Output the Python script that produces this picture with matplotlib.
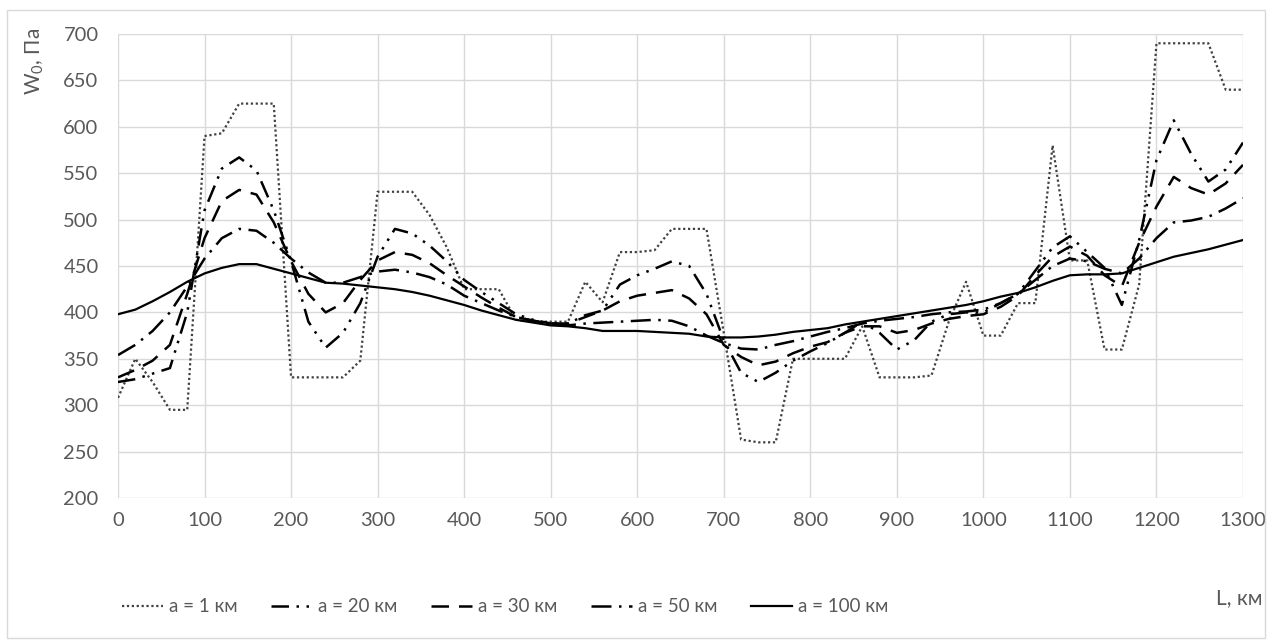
import numpy as np
import matplotlib.pyplot as plt
from matplotlib.patches import Rectangle

plt.rcParams['font.family'] = ['Lato', 'DejaVu Sans']
plt.rcParams['mathtext.fontset'] = 'custom'
plt.rcParams['mathtext.rm'] = 'Lato'

# distance along the route, km
L = list(range(0, 1301, 20))

# W0, Pa for different averaging radius a
w_a1 = [308, 350, 325, 295, 295, 590, 593, 625, 625, 625,
        330, 330, 330, 330, 348, 530, 530, 530, 505, 470,
        425, 425, 425, 392, 390, 390, 390, 433, 411, 465,
        465, 467, 490, 490, 490, 378, 263, 260, 260, 350,
        350, 350, 350, 385, 330, 330, 330, 332, 390, 433,
        375, 375, 410, 410, 580, 456, 456, 360, 360, 430,
        690, 690, 690, 690, 640, 640]
w_a20 = [325, 328, 334, 340, 400, 510, 555, 567, 553, 510,
         455, 390, 362, 378, 410, 460, 490, 485, 472, 455,
         435, 422, 410, 398, 392, 388, 388, 397, 402, 430,
         440, 447, 455, 450, 420, 370, 335, 325, 335, 348,
         358, 367, 378, 390, 378, 360, 370, 390, 398, 400,
         400, 410, 420, 445, 470, 482, 465, 448, 408, 478,
         564, 607, 571, 541, 554, 583]
w_a30 = [330, 338, 348, 365, 420, 480, 520, 532, 527, 497,
         455, 420, 400, 410, 435, 456, 465, 462, 453, 440,
         428, 416, 405, 395, 391, 388, 388, 395, 402, 412,
         418, 421, 424, 415, 398, 365, 352, 343, 347, 356,
         363, 368, 378, 385, 385, 378, 381, 388, 393, 396,
         398, 406, 418, 440, 460, 471, 461, 440, 428, 475,
         514, 546, 534, 527, 539, 559]
w_a50 = [354, 365, 380, 400, 428, 458, 480, 490, 488, 475,
         458, 443, 432, 432, 438, 444, 446, 443, 438, 430,
         418, 410, 402, 395, 391, 388, 386, 388, 389, 390,
         391, 392, 391, 385, 375, 367, 361, 360, 365, 369,
         374, 379, 383, 388, 391, 393, 395, 398, 400, 401,
         403, 410, 420, 435, 450, 458, 455, 447, 442, 458,
         480, 497, 499, 503, 512, 523]
w_a100 = [398, 403, 412, 422, 433, 442, 448, 452, 452, 447,
          442, 437, 432, 431, 429, 427, 425, 422, 418, 413,
          408, 402, 397, 392, 389, 386, 385, 383, 380, 380,
          380, 379, 378, 377, 374, 373, 373, 374, 376, 379,
          381, 383, 387, 390, 393, 396, 399, 402, 405, 408,
          412, 417, 421, 427, 434, 440, 441, 441, 442, 448,
          454, 460, 464, 468, 473, 478]

labels = ['a = 1 км', 'a = 20 км', 'a = 30 км', 'a = 50 км', 'a = 100 км']

grey = '#595959'
fig = plt.figure(figsize=(12.72, 6.44), dpi=100)
fig.patches.append(Rectangle((7 / 1272, 6 / 644), 1258 / 1272, 628 / 644,
                             transform=fig.transFigure, fill=False,
                             edgecolor='#d9d9d9', linewidth=1))
ax = fig.add_axes([118 / 1272, 1 - 498 / 644, 1125 / 1272, 464 / 644])

ax.plot(L, w_a1, color='#404040', lw=1.6, linestyle=(0, (1, 1.2)), label=labels[0])
ax.plot(L, w_a20, color='black', lw=1.8, linestyle=(0, (7, 3, 1, 3, 1, 3)), label=labels[1])
ax.plot(L, w_a30, color='black', lw=1.8, linestyle=(0, (7, 4)), label=labels[2])
ax.plot(L, w_a50, color='black', lw=1.8, linestyle=(0, (8, 3, 1, 3)), label=labels[3])
ax.plot(L, w_a100, color='black', lw=1.6, linestyle='-', label=labels[4])

ax.set_xlim(0, 1300)
ax.set_ylim(200, 700)
ax.set_xticks(range(0, 1301, 100))
ax.set_yticks(range(200, 701, 50))
ax.grid(True, color='#d9d9d9', linewidth=1)
ax.set_axisbelow(True)
for s in ax.spines.values():
    s.set_visible(False)
ax.tick_params(axis='both', length=0, labelsize=14.5, labelcolor=grey)
ax.tick_params(axis='y', pad=14)
ax.tick_params(axis='x', pad=10)

fig.text(35 / 1272, 1 - 28 / 644, r'W$\mathregular{_0}$, Па', rotation=90,
         ha='center', va='top', fontsize=15, color=grey)
fig.text(1262 / 1272, 1 - 598 / 644, 'L, км', ha='right', va='center',
         fontsize=15, color=grey)

leg = fig.legend(loc='center', bbox_to_anchor=(505 / 1272, 1 - 607 / 644),
                 ncol=5, frameon=False, fontsize=13.5, handlelength=2.2,
                 handletextpad=0.3, columnspacing=1.8)
for t in leg.get_texts():
    t.set_color(grey)

fig.savefig('out.png', dpi=100)
